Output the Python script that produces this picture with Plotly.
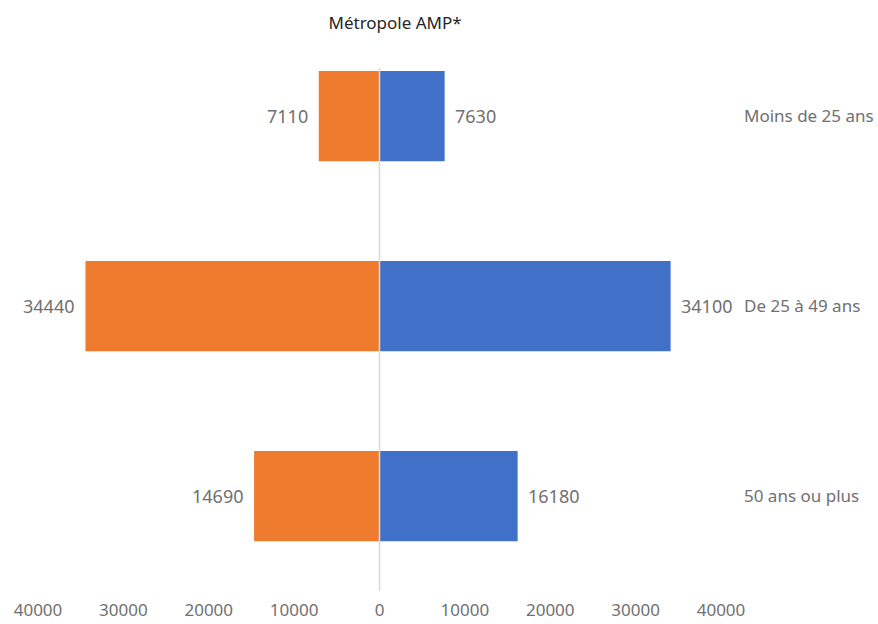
import plotly.graph_objects as go

# Age groups, listed bottom to top
categories = ["50 ans ou plus", "De 25 à 49 ans", "Moins de 25 ans"]
femmes = [14690, 34440, 7110]   # left side (orange)
hommes = [16180, 34100, 7630]   # right side (blue)

tick_vals = [-40000, -30000, -20000, -10000, 0, 10000, 20000, 30000, 40000]
tick_text = ["40000", "30000", "20000", "10000", "0", "10000", "20000", "30000", "40000"]

ORANGE = "#EF7B2E"
BLUE = "#4170C8"
GREY = "#707070"
FONT = "Noto Sans"

fig = go.Figure()
fig.add_trace(go.Bar(
    y=categories, x=[-v for v in femmes], orientation="h",
    marker=dict(color=ORANGE, line=dict(width=0)), width=0.475,
    hoverinfo="skip", showlegend=False,
))
fig.add_trace(go.Bar(
    y=categories, x=hommes, orientation="h",
    marker=dict(color=BLUE, line=dict(width=0)), width=0.475,
    hoverinfo="skip", showlegend=False,
))

# Value labels beside the bar ends
for cat, v in zip(categories, femmes):
    fig.add_annotation(x=-v, y=cat, text=str(v), showarrow=False,
                       xanchor="right", xshift=-9,
                       font=dict(family=FONT, size=18, color=GREY))
for cat, v in zip(categories, hommes):
    fig.add_annotation(x=v, y=cat, text=str(v), showarrow=False,
                       xanchor="left", xshift=8,
                       font=dict(family=FONT, size=18, color=GREY))

# Central axis line
fig.add_shape(type="line", x0=0, x1=0, xref="x", y0=0, y1=1, yref="paper",
              line=dict(color="#D9D9D9", width=1.5), layer="above")

fig.update_layout(
    width=878, height=624,
    margin=dict(l=38, r=157, t=68, b=33),
    paper_bgcolor="white", plot_bgcolor="white",
    barmode="overlay",
    title=dict(text="Métropole AMP*", x=0.45, xanchor="center",
               y=1 - 23 / 624, yanchor="middle", yref="container",
               font=dict(family=FONT, size=17, color="#262626")),
    xaxis=dict(range=[-40000, 40000], tickvals=tick_vals, ticktext=tick_text,
               showgrid=False, zeroline=False, showline=False, ticks="",
               ticklabelstandoff=7, automargin=False,
               tickfont=dict(family=FONT, size=17, color=GREY)),
    yaxis=dict(type="category", categoryorder="array", categoryarray=categories,
               range=[-0.5, 2.253], side="right",
               showgrid=False, zeroline=False, showline=False, ticks="",
               ticklabelstandoff=22, automargin=False,
               tickfont=dict(family=FONT, size=17, color=GREY)),
)

fig.write_html("out.html")
